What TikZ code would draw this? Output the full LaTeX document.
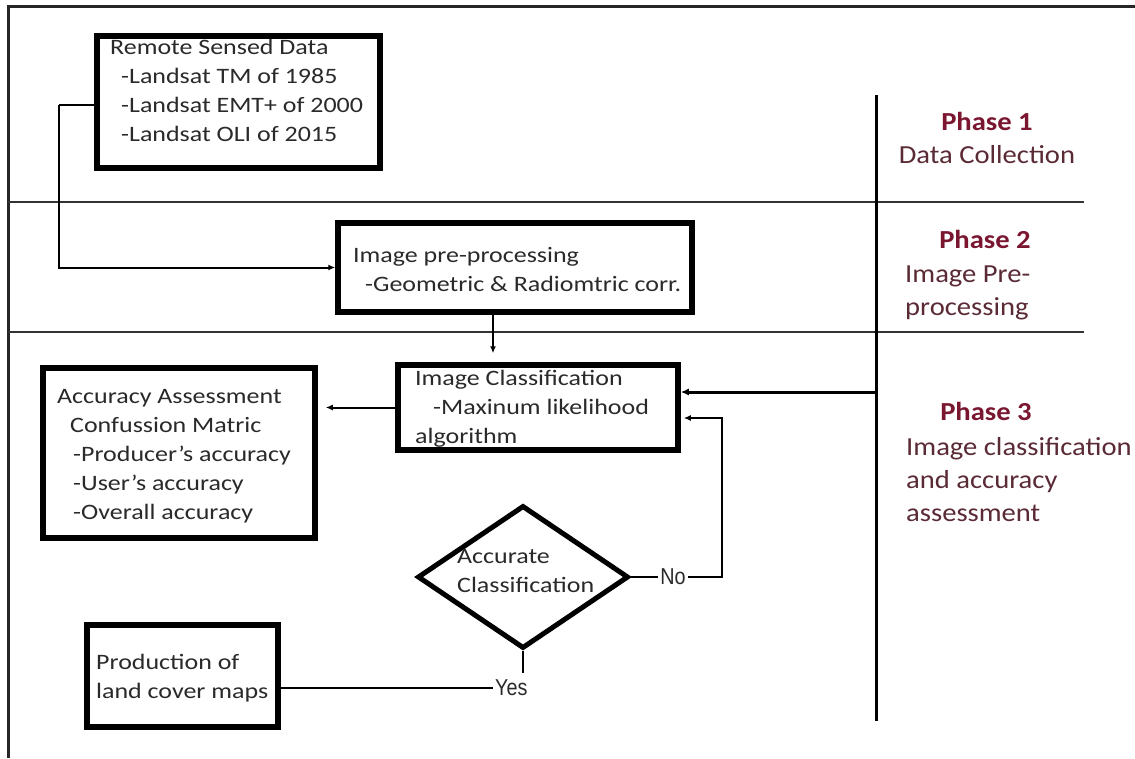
\documentclass[tikz,border=0pt]{standalone}
\usepackage{fontspec}
\setmainfont{Carlito}[FakeStretch=1.18]
\newfontfamily\phasefont{Carlito}[FakeStretch=1.1]
\newfontfamily\narrowfont{Liberation Sans}[FakeStretch=0.86]
\usetikzlibrary{shapes.geometric,arrows.meta}
\definecolor{txtgray}{HTML}{2A2A2A}
\definecolor{linegray}{HTML}{333333}
\definecolor{phasered}{HTML}{7A1630}
\definecolor{phasebody}{HTML}{5A2A35}
\begin{document}
\begin{tikzpicture}[x=1pt,y=-1pt,
  box/.style={draw=black,line width=5.5pt,inner sep=0pt,rectangle},
  txt/.style={inner sep=0pt,anchor=north west,align=left,text=txtgray,font=\fontsize{22}{29}\selectfont},
  phasetitle/.style={inner sep=0pt,anchor=base,text=phasered,font=\phasefont\bfseries\fontsize{26}{33}\selectfont},
  phasetxt/.style={inner sep=0pt,align=left,text=phasebody,font=\phasefont\fontsize{26}{33}\selectfont},
  yn/.style={inner sep=2pt,text=txtgray,font=\narrowfont\fontsize{23}{28}\selectfont},
  conn/.style={draw=black,line width=2pt},
  arr/.style={conn,-{Latex[length=7pt,width=6pt]}},
  sep/.style={draw=linegray,line width=2.4pt}
]
\useasboundingbox (0,0) rectangle (1135,758);
\fill[white] (0,0) rectangle (1135,758);

% outer frame
\draw[line width=3pt,color=black!85] (8,758) -- (8,6) -- (1135,6);

% phase separators
\draw[sep] (8,202) -- (1084,202);
\draw[sep] (8,332) -- (1084,332);
\draw[draw=black,line width=3pt] (876,95) -- (876,721);

% boxes
\node[box,minimum width=283pt,minimum height=132pt] (rs) at (238.5,102) {};
\node[box,minimum width=354pt,minimum height=89pt] (pre) at (515,267.5) {};
\node[box,minimum width=280pt,minimum height=85pt] (cls) at (538,407.5) {};
\node[box,minimum width=272pt,minimum height=170pt] (acc) at (179,453) {};
\node[box,minimum width=191pt,minimum height=102pt] (prod) at (182.5,676) {};
\node[draw=black,line width=5pt,diamond,inner sep=0pt,minimum width=211pt,minimum height=143pt] (dec) at (523,577) {};

% box texts
\node[txt] (rst) at (110,33.7) {\strut Remote Sensed Data\\\hspace*{11pt}-Landsat TM of 1985\\\hspace*{11pt}-Landsat EMT+ of 2000\\\hspace*{11pt}-Landsat OLI of 2015};
\node[txt] (pret) at (353,241.7) {\strut Image pre-processing\\\hspace*{12pt}-Geometric \& Radiomtric corr.};
\node[txt] (clst) at (415,364.7) {\strut Image Classification\\\hspace*{18pt}-Maxinum likelihood\\algorithm};
\node[txt] (acct) at (57,382.7) {\strut Accuracy Assessment\\\hspace*{13pt}Confussion Matric\\\hspace*{16pt}-Producer's accuracy\\\hspace*{16pt}-User's accuracy\\\hspace*{16pt}-Overall accuracy};
\node[txt] (prodt) at (96,648.7) {\strut Production of\\land cover maps};
\node[txt] (dect) at (457,542.5) {\strut Accurate\\Classification};

% phase labels
\node[phasetitle] (p1) at (987,130) {Phase 1};
\node[phasetxt,anchor=base] (p1t) at (987,163) {Data Collection};
\node[phasetitle] (p2) at (985,248) {Phase 2};
\node[phasetxt,anchor=north west] (p2t) at (905,258.9) {\strut Image Pre-\\processing};
\node[phasetitle] (p3) at (986,420) {Phase 3};
\node[phasetxt,anchor=north west] (p3t) at (906,431.9) {\strut Image classification\\and accuracy\\assessment};

% yes / no labels
\node[yn] (no) at (673,577) {No};
\node[yn,anchor=west] (yes) at (493,688) {Yes};

% connectors
\coordinate (lbend) at (59,105);
\draw[conn,line width=2.8pt] ([yshift=-3pt]rs.west) -- (lbend);
\draw[arr] (lbend) |- (pre.west);
\draw[arr] ([xshift=-22pt]pre.south) -- ([xshift=-45pt,yshift=9pt]cls.north);
\coordinate (vr) at (876,392);
\draw[conn,line width=3pt,-{Latex[length=8pt,width=7pt]}] (vr) -- (vr -| cls.east);
\draw[arr,shorten >=8pt] (cls.west) -- (cls.west -| acc.east);
\draw[conn] (dec.east) -- (no.west);
\coordinate (nob) at (722,577);
\draw[arr,line width=1.8pt] (no.east) -- (nob) |- ([yshift=-10.5pt,xshift=3pt]cls.east);
\draw[conn] (dec.south) -- ++(0,22);
\draw[conn] ([yshift=-12pt]prod.east) -- (yes.west);
\end{tikzpicture}
\end{document}
